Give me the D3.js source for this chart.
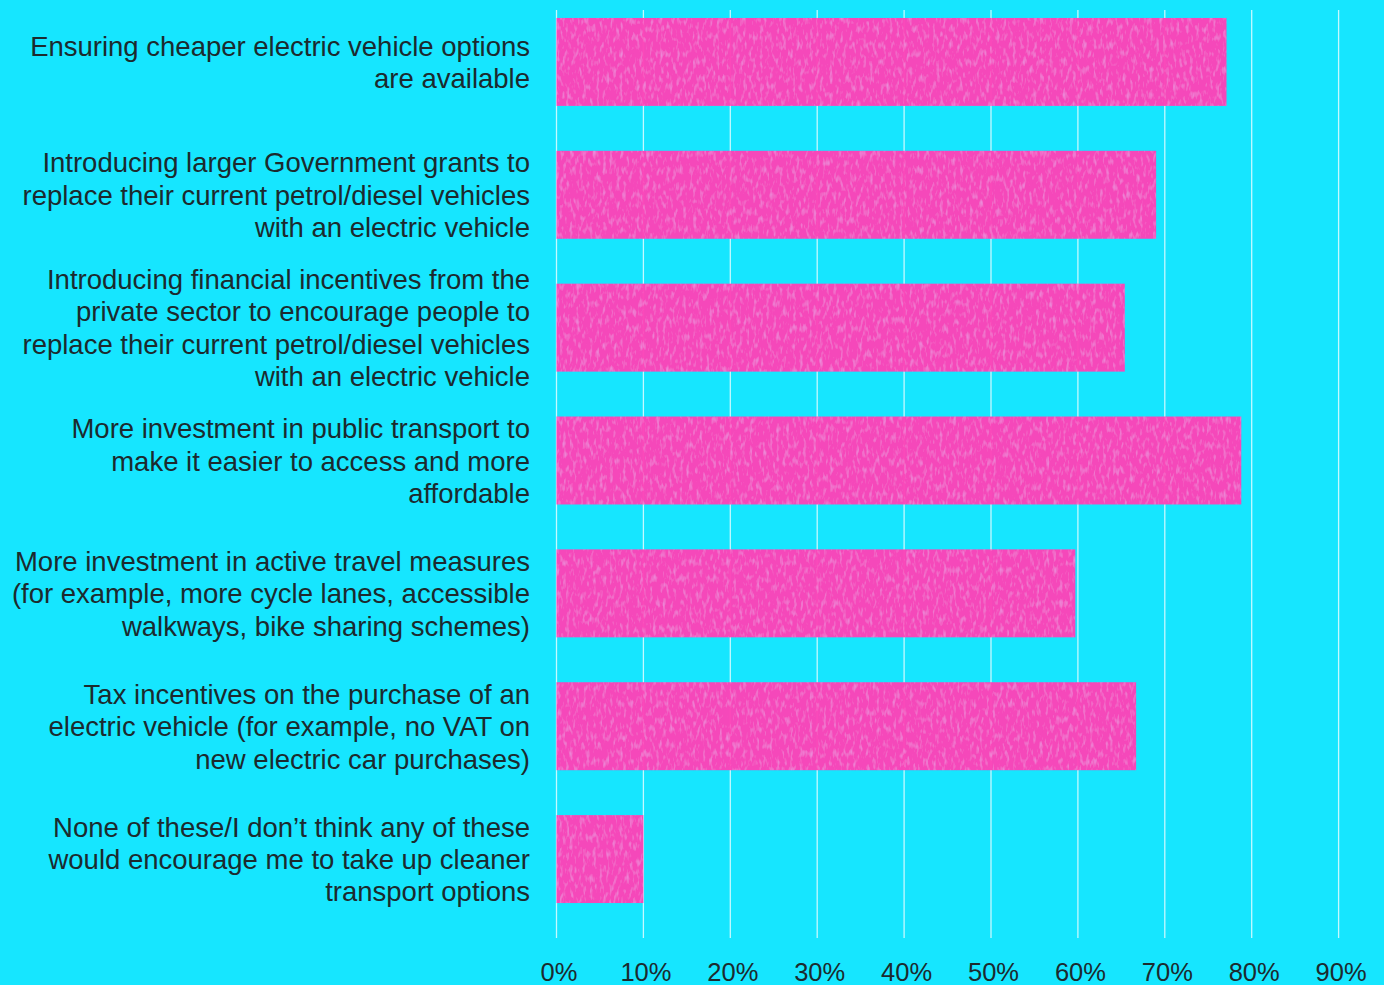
<!DOCTYPE html>
<html><head><meta charset="utf-8">
<script src="https://cdn.jsdelivr.net/npm/d3@7"></script>
<style>
html,body{margin:0;padding:0;background:#16E6FF;overflow:hidden}
svg{display:block}
</style></head>
<body>
<svg id="c" width="1384" height="985"></svg>
<script>
const categories = [
  ["Ensuring cheaper electric vehicle options", "are available"],
  ["Introducing larger Government grants to", "replace their current petrol/diesel vehicles", "with an electric vehicle"],
  ["Introducing financial incentives from the", "private sector to encourage people to", "replace their current petrol/diesel vehicles", "with an electric vehicle"],
  ["More investment in public transport to", "make it easier to access and more", "affordable"],
  ["More investment in active travel measures", "(for example, more cycle lanes, accessible", "walkways, bike sharing schemes)"],
  ["Tax incentives on the purchase of an", "electric vehicle (for example, no VAT on", "new electric car purchases)"],
  ["None of these/I don\u2019t think any of these", "would encourage me to take up cleaner", "transport options"]
];
const values = [0.771, 0.69, 0.654, 0.788, 0.597, 0.667, 0.10];
const tickValues = [0, 0.1, 0.2, 0.3, 0.4, 0.5, 0.6, 0.7, 0.8, 0.9];

const svg = d3.select("#c");
const FONT = "'Liberation Sans', Arial, sans-serif";
const TEXT = "#1c2a2e";

const x = d3.scaleLinear().domain([0, 1]).range([556.5, 1425.5]);
const y = d3.scaleBand().domain(d3.range(categories.length)).range([-4.5, 925.5]).paddingInner(0.338).paddingOuter(0.169);

// gridlines
svg.append("g").selectAll("line").data(tickValues).join("line")
  .attr("x1", d => x(d)).attr("x2", d => x(d))
  .attr("y1", 10).attr("y2", 938)
  .attr("stroke", "#ffffff").attr("stroke-opacity", 0.75).attr("stroke-width", 1.3);

// subtle texture filter
const defs = svg.append("defs");
const f = defs.append("filter").attr("id", "tex").attr("x", 0).attr("y", 0).attr("width", 1).attr("height", 1);
f.append("feTurbulence").attr("type", "fractalNoise").attr("baseFrequency", "0.3 0.12").attr("numOctaves", 2).attr("seed", 5).attr("result", "n");
f.append("feColorMatrix").attr("in", "n").attr("type", "matrix")
  .attr("values", "0 0 0 0 0.75  0 0 0 0 0.42  0 0 0 0 0.88  0 0 0 1.3 -0.66").attr("result", "m");
f.append("feComposite").attr("in", "m").attr("in2", "SourceGraphic").attr("operator", "in").attr("result", "mm");
f.append("feMerge").selectAll("feMergeNode").data(["SourceGraphic", "mm"]).join("feMergeNode").attr("in", d => d);

// bars
svg.append("g").selectAll("rect").data(values).join("rect")
  .attr("x", x(0)).attr("y", (d, i) => y(i))
  .attr("width", d => x(d) - x(0)).attr("height", y.bandwidth())
  .attr("fill", "#FD44B8").attr("fill-opacity", 0.97)
  .attr("filter", "url(#tex)");

// category labels
const lh = 32.4;
const lab = svg.append("g").attr("font-family", FONT).attr("font-size", 27.5).attr("fill", TEXT).attr("text-anchor", "end");
categories.forEach((lines, i) => {
  const cy = y(i) + y.bandwidth() / 2;
  const t = lab.append("text").attr("x", 530);
  lines.forEach((ln, j) => {
    t.append("tspan").attr("x", 530)
      .attr("y", cy + (j - (lines.length - 1) / 2) * lh + 10)
      .text(ln);
  });
});

// x axis
const ax = d3.axisBottom(x).tickValues(tickValues).tickFormat(d3.format(".0%")).tickSize(0).tickPadding(0);
const g = svg.append("g").attr("transform", "translate(2,981)").call(ax);
g.select(".domain").remove();
g.selectAll("text").attr("font-family", FONT).attr("font-size", 25.5).attr("fill", TEXT).attr("dy", 0).attr("y", 0);
</script>
</body></html>
